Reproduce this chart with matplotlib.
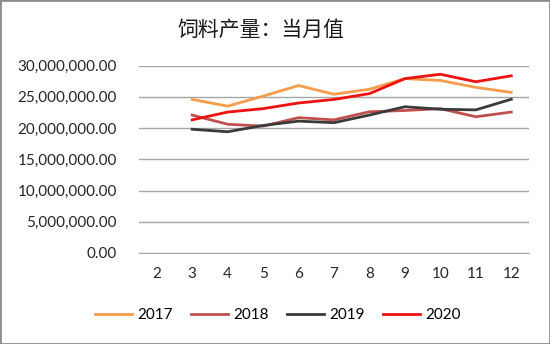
import numpy as np
import matplotlib.pyplot as plt
from matplotlib.patches import Rectangle

months = ['2', '3', '4', '5', '6', '7', '8', '9', '10', '11', '12']
y2017 = [np.nan, 24.57, 23.5, 25.1, 26.8, 25.4, 26.2, 27.9, 27.6, 26.5, 25.7]
y2018 = [np.nan, 22.07, 20.6, 20.3, 21.65, 21.3, 22.6, 22.8, 23.1, 21.8, 22.55]
y2019 = [np.nan, 19.8, 19.4, 20.4, 21.1, 20.85, 22.07, 23.4, 23.0, 22.9, 24.6]
y2020 = [np.nan, 21.3, 22.55, 23.1, 24.0, 24.57, 25.5, 27.9, 28.6, 27.4, 28.35]
series = {'2017': y2017, '2018': y2018, '2019': y2019, '2020': y2020}
colors = {'2017': '#F59D4A', '2018': '#C0504D', '2019': '#3A3A3A', '2020': '#EE1111'}

plt.rcParams['font.family'] = ['Lato', 'DejaVu Sans']

fig = plt.figure(figsize=(5.5, 3.44), dpi=100)
ax = fig.add_axes([139 / 550, 91 / 344, 390 / 550, 187.5 / 344])

x = np.arange(len(months))
for name, vals in series.items():
    ax.plot(x, np.array(vals) * 1e6, color=colors[name], lw=2, label=name)

ax.set_xlim(-0.5, len(months) - 0.5)
ax.set_ylim(0, 30e6)
ax.set_yticks(np.arange(0, 30e6 + 1, 5e6))
ax.set_yticklabels([f'{v:,.2f}' for v in np.arange(0, 30e6 + 1, 5e6)])
ax.set_xticks(x)
ax.set_xticklabels(months)
ax.grid(axis='y', color='#A6A6A6', lw=1)
ax.set_axisbelow(True)
for s in ['top', 'right', 'left']:
    ax.spines[s].set_visible(False)
ax.spines['bottom'].set_color('#A6A6A6')
ax.tick_params(axis='both', length=0, labelsize=11, colors='#262626')
ax.tick_params(axis='y', pad=16)
ax.tick_params(axis='x', pad=10)

fig.text(261 / 550, 0.913, '饲料产量：当月值', ha='center', va='center', fontsize=15,
         family=['Noto Sans CJK SC', 'DejaVu Sans'], color='#1a1a1a')

fig.legend(loc='center', bbox_to_anchor=(278 / 550, 0.083), ncol=4, frameon=False,
           fontsize=11, handlelength=2.4, columnspacing=1.2, handletextpad=0.35)

fig.patches.append(Rectangle((0, 0), 1, 1, transform=fig.transFigure, fill=False,
                             edgecolor='#8C8C8C', lw=2))

fig.savefig('out.png', dpi=100)
